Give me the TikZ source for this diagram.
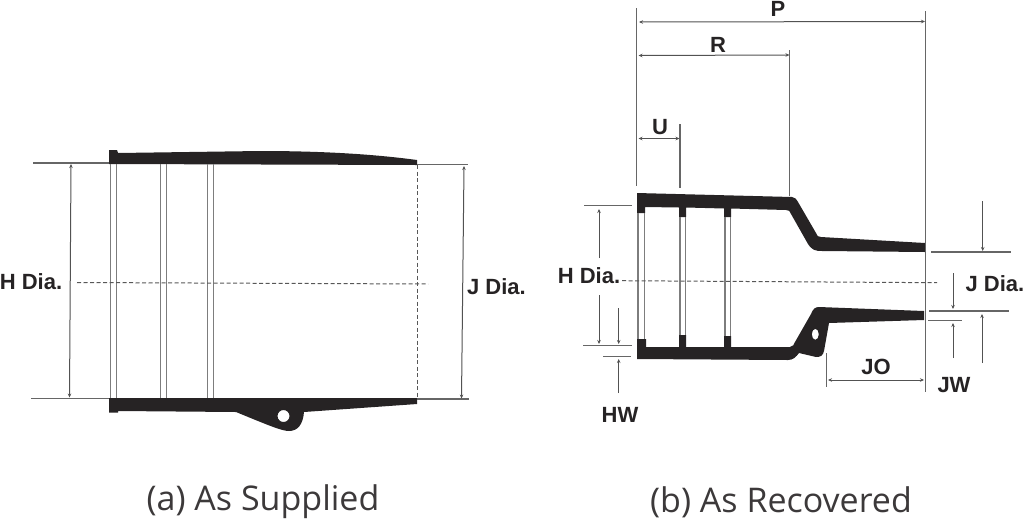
\documentclass[tikz,border=0pt]{standalone}
\usepackage{fontspec}
\setmainfont{Liberation Sans}
\newfontfamily\captionfont{Open Sans}
\usetikzlibrary{
    arrows.meta
}
\definecolor{sleeve}{HTML}{262324}
\definecolor{guide}{HTML}{666666}

\begin{document}
\begin{tikzpicture}[
    x=1pt,
    y=-1pt,
    edgeline/.style={
        draw=guide,
        line width=1.1pt,
    },
    ringline/.style={
        draw=guide!85,
        line width=1.4pt,
    },
    centerline/.style={
        draw=guide!85!black,
        line width=1pt,
        dash pattern=on 4pt off 2.5pt,
    },
    dimarrow/.style={
        draw=guide!80!black,
        line width=1pt,
        -{Stealth[length=4pt,width=3.5pt]},
    },
    dimboth/.style={
        dimarrow,
        {Stealth[length=4pt,width=3.5pt]}-{Stealth[length=4pt,width=3.5pt]},
    },
    dimtext/.style={
        text=sleeve,
        font=\fontsize{22}{22}\selectfont\bfseries,
        inner sep=0pt,
    },
    captiontext/.style={
        text=sleeve!90,
        font=\captionfont\fontsize{34}{34}\selectfont,
        inner sep=0pt,
    },
]
    \useasboundingbox (0,0) rectangle (1024,520);

    % (a) as supplied
    \fill[sleeve] (109,150) -- (117,150) -- (118,153) -- (260,151)
        .. controls (330,151) and (380,155) .. (417,160) -- (417,165) -- (109,164) -- cycle;
    \fill[sleeve,even odd rule] (109,398) -- (417,398) -- (417,404) -- (304,412)
        .. controls (303,424) and (298,431) .. (289,431)
        .. controls (282,431) and (270,426) .. (236,412) -- (118,411) -- (118,412.5) -- (109,412.5) -- cycle
        (283.5,416) circle[radius=6];
    \foreach \xa in {110.5,116.5,160.5,166.5,207.5,213.5}
        \draw[ringline] (\xa,164) -- (\xa,398);
    \draw[centerline] (417,165) -- (417,398);
    \draw[centerline] (77,282.5) -- (428,284);

    \coordinate (hatop) at (71,164);
    \coordinate (habot) at (69.5,397.5);
    \coordinate (jatop) at (464,166);
    \coordinate (jabot) at (461.5,398.5);
    \draw[edgeline] (33,163) -- (109,163);
    \draw[edgeline] (31,398.5) -- (109,398.5);
    \draw[edgeline] (417,164.5) -- (468,164.5);
    \draw[edgeline] (417,399) -- (469,399);
    \draw[dimboth] (hatop) -- (habot);
    \draw[dimboth] (jatop) -- (jabot);

    \node[dimtext] (hdiaa) at (31,282) {H Dia.};
    \node[dimtext] (jdiaa) at (496.5,287) {J Dia.};
    \node[captiontext] (capa) at (263,502) {(a) As Supplied};

    % (b) as recovered
    \fill[sleeve] (637,193) -- (792,197)
        .. controls (795,197) and (796,199) .. (798,202) -- (816,233)
        .. controls (817,236) and (818,237) .. (821,237)
        -- (925,243) -- (925,252) -- (822,251)
        .. controls (815,251) and (812,250) .. (808,244) -- (791,214)
        .. controls (790,211) and (789,210) .. (786,210)
        -- (731,208.5) -- (731,217) -- (724,217) -- (724,208.5)
        -- (686,207.5) -- (686,217) -- (679,217) -- (679,207.5)
        -- (645,207) -- (645,213) -- (637,213) -- cycle;
    \fill[sleeve,even odd rule] (637,339) -- (646,339) -- (646,347) -- (679,347) -- (679,335)
        -- (686,335) -- (686,347) -- (724,347) -- (724,336) -- (731,336) -- (731,347) -- (790,347)
        .. controls (793,346) and (794,345) .. (795,342) -- (811,314)
        .. controls (813,309) and (815,307) .. (819,307)
        -- (924,311) -- (924,320) -- (829,323) -- (824,351)
        .. controls (823,356) and (820,357) .. (816,357)
        -- (799,353) .. controls (796,357) and (793,360) .. (788,360)
        -- (637,359) -- cycle
        (815.3,334.3) ellipse[x radius=3.5,y radius=5.5];
    \draw[ringline] (638,213) -- (638,339);
    \draw[ringline] (644.5,213) -- (644.5,339);
    \foreach \xa in {680,685.5}
        \draw[ringline] (\xa,217) -- (\xa,335);
    \foreach \xa in {725,730.5}
        \draw[ringline] (\xa,217) -- (\xa,336);
    \draw[centerline] (622,280.7) -- (937,282.7);

    \draw[edgeline] (636.7,8) -- (636.7,186);
    \draw[edgeline] (925.5,11) -- (925.5,392);
    \draw[edgeline] (789.5,50) -- (789.5,196);
    \draw[edgeline] (680,124) -- (680,188);
    \draw[edgeline] (584,205.7) -- (632,205.7);
    \draw[edgeline] (583,345.7) -- (632,345.7);
    \draw[edgeline] (603,356.7) -- (631,356.7);
    \draw[edgeline] (931,252) -- (1011,252);
    \draw[edgeline] (929,311) -- (1009,311);
    \draw[edgeline] (928,320.5) -- (962,320.5);
    \draw[edgeline] (826.7,353) -- (826.7,387);

    \coordinate (pleft) at (639,22);
    \coordinate (pright) at (925,21.5);
    \coordinate (rleft) at (638.5,55.5);
    \coordinate (rright) at (789.5,55);
    \coordinate (uleft) at (638.5,138.5);
    \coordinate (uright) at (679.5,138.5);
    \coordinate (joleft) at (828,380);
    \coordinate (joright) at (924,380);
    \draw[dimboth] (pleft) -- (pright);
    \draw[dimboth] (rleft) -- (rright);
    \draw[dimboth] (uleft) -- (uright);
    \draw[dimboth] (joleft) -- (joright);

    \coordinate (hbtail) at (599,258);
    \coordinate (hbtop) at (599,209);
    \coordinate (hbtailb) at (599,295);
    \coordinate (hbbot) at (599,344);
    \coordinate (hwtail) at (618.7,308);
    \coordinate (hwtop) at (618.7,344);
    \coordinate (hwtailb) at (618.7,393);
    \coordinate (hwbot) at (618.7,359);
    \draw[dimarrow] (hbtail) -- (hbtop);
    \draw[dimarrow] (hbtailb) -- (hbbot);
    \draw[dimarrow] (hwtail) -- (hwtop);
    \draw[dimarrow] (hwtailb) -- (hwbot);

    \coordinate (jbtail) at (982.7,201);
    \coordinate (jbtop) at (982.7,251);
    \coordinate (jbtailb) at (953,273);
    \coordinate (jbbot) at (953,309);
    \coordinate (jwtail) at (953,358);
    \coordinate (jwtop) at (953,323);
    \coordinate (jwtailb) at (982,363);
    \coordinate (jwbot) at (982,314);
    \draw[dimarrow] (jbtail) -- (jbtop);
    \draw[dimarrow] (jbtailb) -- (jbbot);
    \draw[dimarrow] (jwtail) -- (jwtop);
    \draw[dimarrow] (jwtailb) -- (jwbot);

    \node[dimtext] (plabel) at (778,9) {P};
    \node[dimtext] (rlabel) at (718,45) {R};
    \node[dimtext] (ulabel) at (660,127) {U};
    \node[dimtext] (hdiab) at (589,276) {H Dia.};
    \node[dimtext] (jdiab) at (995,284) {J Dia.};
    \node[dimtext] (hwlabel) at (620,415) {HW};
    \node[dimtext] (jolabel) at (876,367) {JO};
    \node[dimtext] (jwlabel) at (954,385) {JW};
    \node[captiontext] (capb) at (781,502) {(b) As Recovered};

\end{tikzpicture}
\end{document}
